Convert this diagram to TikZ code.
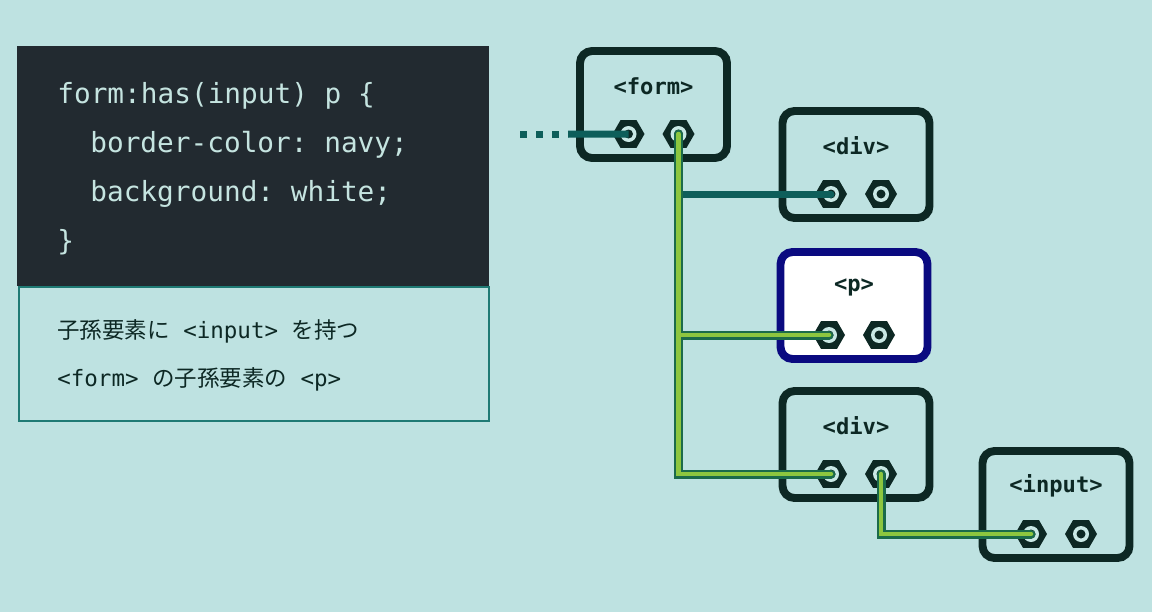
\documentclass[tikz,border=0pt]{standalone}
\usepackage{fontspec}
\setmonofont{DejaVu Sans Mono}
\newfontfamily\cjk{Noto Sans CJK JP}
\usepackage{xcolor}
\usepackage{tikz}
\usetikzlibrary{positioning, shapes.geometric, calc}

\definecolor{bgcol}{HTML}{BEE2E1}
\definecolor{codebg}{HTML}{222A30}
\definecolor{codefg}{HTML}{C5E4E0}
\definecolor{inkcol}{HTML}{0D2824}
\definecolor{navycol}{HTML}{0A0A80}
\definecolor{capline}{HTML}{1F7A74}
\definecolor{tealwire}{HTML}{0E5E5A}
\definecolor{wireedge}{HTML}{1B6B4A}
\definecolor{wirelime}{HTML}{8DC63F}
\definecolor{ringcol}{HTML}{C9E8E5}

\tikzset{
  elem/.style={draw=inkcol, line width=4.5pt, rounded corners=0.24cm,
    minimum width=2.94cm, minimum height=2.14cm, inner sep=0pt},
  elemlabel/.style={font=\ttfamily\bfseries\fontsize{12.6}{14}\selectfont, text=inkcol},
  socket/.style={regular polygon, regular polygon sides=6, fill=inkcol,
    inner sep=0pt, minimum size=0.64cm,
    path picture={
      \fill[ringcol] (path picture bounding box.center) circle (0.16cm);
      \fill[inkcol] (path picture bounding box.center) circle (0.09cm);
    }},
  codeline/.style={anchor=base west, inner sep=0pt, text=codefg,
    font=\ttfamily\fontsize{15.8}{18}\selectfont},
  captext/.style={anchor=base west, inner sep=0pt, text=inkcol,
    font=\ttfamily\fontsize{12.8}{15}\selectfont},
  wire/.style={line width=0.14cm, tealwire, line cap=round}
}

\begin{document}
\begin{tikzpicture}[x=0.02cm, y=-0.02cm]
		% Background
		\fill[bgcol] (0,0) rectangle (1152,612);
		\useasboundingbox (0,0) rectangle (1152,612);
		
		% Code panel and caption
		\node[draw=capline, line width=0.04cm, minimum width=9.4cm, minimum height=2.68cm,
		  inner sep=0pt, anchor=north west] (cap) at (18,286) {};
		\node[fill=codebg, minimum width=9.44cm, minimum height=4.8cm,
		  inner sep=0pt, anchor=north west] (code) at (17,46) {};
		\node[codeline] (code-1) at (57,103) {form:has(input) p \{};
		\node[codeline] (code-2) at (90,152) {border-color: navy;};
		\node[codeline] (code-3) at (90,201) {background: white;};
		\node[codeline] (code-4) at (57,250) {\}};
		\node[captext] (cap-1) at (57,338) {{\cjk 子孫要素に} <input> {\cjk を持つ}};
		\node[captext] (cap-2) at (57,386) {<form> {\cjk の子孫要素の} <p>};
		
		% Elements
		\node[elem] (form) at (653.5,104.5) {};
		\node[elem] (divA) at (856,164.5) {};
		\node[elem, draw=navycol, fill=white] (p) at (854,305.5) {};
		\node[elem] (divB) at (856,444.5) {};
		\node[elem] (input) at (1056,504.5) {};
		
		% Tags and sockets
		\foreach \n/\t in {form/{<form>}, divA/{<div>}, p/{<p>}, divB/{<div>}, input/{<input>}} {
			\node[elemlabel] (\n-tag) at ($(\n.center)+(0,-18.5)$) {\t};
			\node[socket] (\n-in) at ($(\n.center)+(-25,29.5)$) {};
			\node[socket] (\n-out) at ($(\n.center)+(25,29.5)$) {};
		}
		
		% Lead-in wire
		\coordinate (lead) at (520,134);
		\coordinate (lead-end) at (568,134);
		\draw[wire, line cap=butt, dash pattern=on 0.14cm off 0.18cm] (lead) -- (lead-end);
		\draw[wire, line cap=butt] (lead-end) -- (form-in.center);
		
		% Branch that does not match
		\draw[wire] (form-out.center |- divA-in.center) -- (divA-in.center);
		
		% Matching path
		\foreach \col/\w in {wireedge/0.18cm, wirelime/0.09cm} {
			\draw[\col, line width=\w, line cap=round] (form-out.center) |- (divB-in.center);
			\draw[\col, line width=\w, line cap=round] (form-out.center |- p-in.center) -- (p-in.center);
			\draw[\col, line width=\w, line cap=round] (divB-out.center) |- (input-in.center);
		}
		
	\end{tikzpicture}
\end{document}
